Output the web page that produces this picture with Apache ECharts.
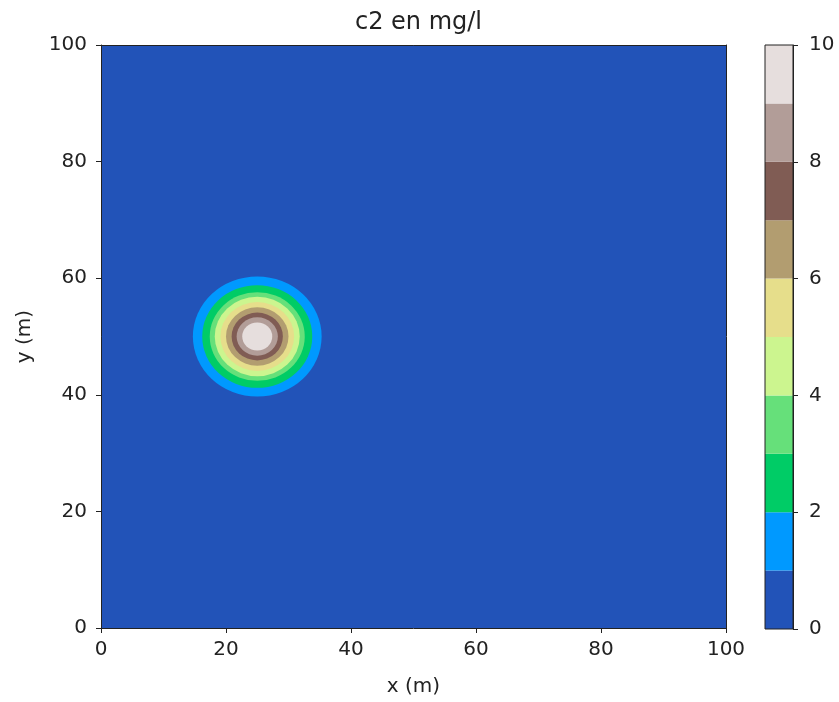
<!DOCTYPE html>
<html>
<head>
<meta charset="utf-8">
<script src="https://cdn.jsdelivr.net/npm/echarts@6/dist/echarts.min.js"></script>
<style>
  html, body { margin: 0; padding: 0; background: #fff; }
  #chart { width: 839px; height: 702px; }
</style>
</head>
<body>
<div id="chart"></div>
<script>
// contour levels (mg/l) and the colour of each filled band between them
const levels = [0, 1, 2, 3, 4, 5, 6, 7, 8, 9, 10];
const bandColors = ['#2253b8', '#0099ff', '#00cc66', '#66e07a', '#ccf58f',
                    '#e6de8b', '#b29d70', '#805c54', '#b29d98', '#e6dedd'];

// model domain (m)
const domainX = [0, 100];
const domainY = [0, 100];
const xTicks = [0, 20, 40, 60, 80, 100];

// plume: centre and radius (m) of each contour line
const plumeCenter = [25, 50];
const contourLevels = [1, 2, 3, 4, 5, 6, 7, 8, 9];
const contourRadii = [10.3, 8.8, 7.6, 6.8, 5.9, 5.0, 4.1, 3.3, 2.4];

const font = 'DejaVu Sans';
const ink = '#222';

// rings, largest first so the inner ones sit on top
const ringData = contourLevels.map((lv, i) => [plumeCenter[0], plumeCenter[1], contourRadii[i], lv]);
// colour bar bands
const barData = bandColors.map((c, i) => [levels[i], levels[i + 1], i]);

function frameAxis(pos, grid) {
    return {
        type: 'value', gridIndex: grid, position: pos, z: 10,
        min: 0, max: 100,
        axisLine: { show: true, onZero: false, lineStyle: { color: ink, width: 1 } },
        axisTick: { show: false }, axisLabel: { show: false }, splitLine: { show: false }
    };
}

let option = {
    animation: false,
    title: {
        text: 'c2 en mg/l',
        left: 413.5, textAlign: 'center', top: 6,
        textStyle: { fontFamily: font, fontSize: 24, fontWeight: 'normal', color: ink }
    },
    grid: [
        { left: 101, top: 45, width: 625, height: 584 },
        { left: 765, top: 45, width: 28, height: 584 }
    ],
    xAxis: [
        {
            type: 'value', gridIndex: 0, position: 'bottom', z: 10,
            min: domainX[0], max: domainX[1], interval: 20,
            name: 'x (m)', nameLocation: 'middle', nameGap: 49,
            nameTextStyle: { fontFamily: font, fontSize: 20, color: ink },
            axisLine: { show: true, onZero: false, lineStyle: { color: ink } },
            axisTick: { show: true, length: 5, lineStyle: { color: ink } },
            axisLabel: { fontFamily: font, fontSize: 20, color: ink, margin: 12,
                         customValues: xTicks },
            splitLine: { show: false }
        },
        frameAxis('top', 0),
        {
            type: 'value', gridIndex: 1, min: 0, max: 1, show: false
        }
    ],
    yAxis: [
        {
            type: 'value', gridIndex: 0, position: 'left', z: 10,
            min: domainY[0], max: domainY[1], interval: 20,
            name: 'y (m)', nameLocation: 'middle', nameGap: 66,
            nameTextStyle: { fontFamily: font, fontSize: 20, color: ink },
            axisLine: { show: true, onZero: false, lineStyle: { color: ink } },
            axisTick: { show: true, length: 5, lineStyle: { color: ink } },
            axisLabel: { fontFamily: font, fontSize: 20, color: ink, margin: 14 },
            splitLine: { show: false }
        },
        frameAxis('right', 0),
        {
            type: 'value', gridIndex: 1, position: 'right', z: 10,
            min: levels[0], max: levels[levels.length - 1], interval: 2,
            axisLine: { show: true, onZero: false, lineStyle: { color: ink } },
            axisTick: { show: true, length: 5, lineStyle: { color: ink } },
            axisLabel: { fontFamily: font, fontSize: 20, color: ink, margin: 16 },
            splitLine: { show: false }
        }
    ],
    series: [
        {
            // lowest band fills the whole domain
            type: 'custom', xAxisIndex: 0, yAxisIndex: 0, z: 1,
            data: [[domainX[0], domainX[1], domainY[0], domainY[1], 0]],
            renderItem: function (params, api) {
                let p0 = api.coord([api.value(0), api.value(3)]);
                let p1 = api.coord([api.value(1), api.value(2)]);
                return {
                    type: 'rect',
                    shape: { x: p0[0], y: p0[1], width: p1[0] - p0[0], height: p1[1] - p0[1] },
                    style: { fill: bandColors[api.value(4)] }
                };
            }
        },
        {
            // filled contour rings round the plume
            type: 'custom', xAxisIndex: 0, yAxisIndex: 0, z: 2,
            data: ringData,
            renderItem: function (params, api) {
                let c = api.coord([api.value(0), api.value(1)]);
                let r = api.value(2);
                let rx = api.size([r, 0])[0];
                let ry = api.size([0, r])[1];
                return {
                    type: 'circle',
                    x: c[0], y: c[1], scaleY: ry / rx,
                    shape: { cx: 0, cy: 0, r: rx },
                    style: { fill: bandColors[api.value(3)] }
                };
            }
        },
        {
            // colour bar
            type: 'custom', xAxisIndex: 2, yAxisIndex: 2, z: 1,
            data: barData,
            renderItem: function (params, api) {
                let p0 = api.coord([0, api.value(1)]);
                let p1 = api.coord([1, api.value(0)]);
                return {
                    type: 'rect',
                    shape: { x: p0[0], y: p0[1], width: p1[0] - p0[0], height: p1[1] - p0[1] },
                    style: { fill: bandColors[api.value(2)] }
                };
            }
        },
        {
            // colour bar outline
            type: 'custom', xAxisIndex: 2, yAxisIndex: 2, z: 3,
            data: [[levels[0], levels[levels.length - 1]]],
            renderItem: function (params, api) {
                let p0 = api.coord([0, api.value(1)]);
                let p1 = api.coord([1, api.value(0)]);
                return {
                    type: 'rect',
                    shape: { x: p0[0], y: p0[1], width: p1[0] - p0[0], height: p1[1] - p0[1] },
                    style: { fill: null, stroke: ink, lineWidth: 1 }
                };
            }
        }
    ]
};

let chart = echarts.init(document.getElementById('chart'));
chart.setOption(option);
</script>
</body>
</html>
